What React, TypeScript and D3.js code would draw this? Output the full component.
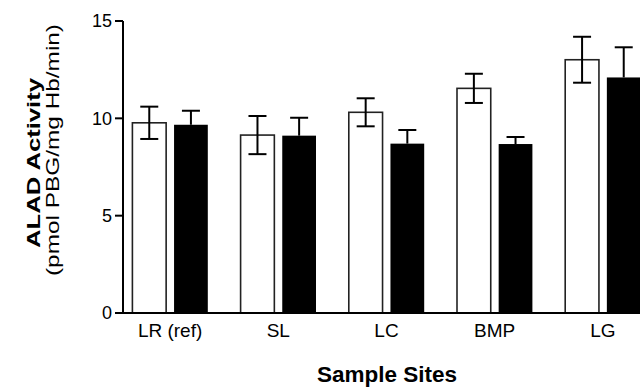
import * as d3 from 'd3';

const sites = ['LR (ref)', 'SL', 'LC', 'BMP', 'LG'];
const openMean = [9.77, 9.14, 10.31, 11.54, 13.01];
const openErr = [0.83, 0.98, 0.72, 0.75, 1.18];
const filledMean = [9.67, 9.11, 8.7, 8.68, 12.1];
const filledErr = [0.72, 0.92, 0.7, 0.36, 1.55];
const yTicks = [0, 5, 10, 15];

const W = 640;
const H = 387;
const FONT = '"Liberation Sans", Arial, sans-serif';
const AXIS_X = 123;
const CAP = 9;

export default function App() {
  const x = d3.scaleBand<string>().domain(sites).range([116, 657]).padding(0);
  const sub = d3
    .scaleBand<string>()
    .domain(['open', 'filled'])
    .range([-37.7, 37.7])
    .paddingInner(0.19)
    .paddingOuter(0);
  const y = d3.scaleLinear().domain([0, 15]).range([313, 21]);
  const bw = sub.bandwidth();

  const center = (s: string) => (x(s) ?? 0) + x.bandwidth() / 2;

  return (
    <svg
      width={W}
      height={H}
      style={{ position: 'absolute', left: 0, top: 0, background: '#fff' }}
      fontFamily={FONT}
    >
      {/* bars */}
      {sites.map((s, i) => {
        const cx = center(s);
        const ox = cx + (sub('open') ?? 0);
        const fx = cx + (sub('filled') ?? 0);
        const oTop = y(openMean[i]);
        const fTop = y(filledMean[i]);
        const omid = ox + bw / 2;
        const fmid = fx + bw / 2;
        const oHi = y(openMean[i] + openErr[i]);
        const oLo = y(openMean[i] - openErr[i]);
        const fHi = y(filledMean[i] + filledErr[i]);
        return (
          <g key={s}>
            <rect
              x={ox}
              y={oTop}
              width={bw}
              height={y(0) - oTop}
              fill="#fff"
              stroke="#222"
              strokeWidth={1.6}
            />
            <rect x={fx} y={fTop} width={bw} height={y(0) - fTop} fill="#000" />
            <g stroke="#000" strokeWidth={2}>
              <line x1={omid} x2={omid} y1={oHi} y2={oLo} />
              <line x1={omid - CAP} x2={omid + CAP} y1={oHi} y2={oHi} />
              <line x1={omid - CAP} x2={omid + CAP} y1={oLo} y2={oLo} />
              <line x1={fmid} x2={fmid} y1={fHi} y2={fTop} />
              <line x1={fmid - CAP} x2={fmid + CAP} y1={fHi} y2={fHi} />
            </g>
          </g>
        );
      })}

      {/* axes */}
      <g stroke="#000" strokeWidth={2}>
        <line x1={AXIS_X} x2={AXIS_X} y1={y(15)} y2={y(0)} />
        <line x1={115} x2={W} y1={y(0)} y2={y(0)} />
        {yTicks.map((t) => (
          <line key={t} x1={115} x2={AXIS_X} y1={y(t)} y2={y(t)} />
        ))}
      </g>
      {yTicks.map((t) => (
        <text
          key={t}
          x={112}
          y={y(t)}
          dy="0.35em"
          textAnchor="end"
          fontSize={18}
          fill="#000"
        >
          {t}
        </text>
      ))}
      {sites.map((s) => (
        <text key={s} x={center(s)} y={337} textAnchor="middle" fontSize={19} fill="#000">
          {s}
        </text>
      ))}

      {/* axis titles */}
      <text x={387} y={382} textAnchor="middle" fontSize={22.5} fontWeight="bold" fill="#000">
        Sample Sites
      </text>
      <text
        transform="translate(40,163) rotate(-90)"
        textAnchor="middle"
        fontSize={19}
        fontWeight="bold"
        fill="#000"
        textLength={170}
        lengthAdjust="spacingAndGlyphs"
      >
        ALAD Activity
      </text>
      <text
        transform="translate(59,150) rotate(-90)"
        textAnchor="middle"
        fontSize={18}
        fill="#000"
        textLength={252}
        lengthAdjust="spacingAndGlyphs"
      >
        (pmol PBG/mg Hb/min)
      </text>
    </svg>
  );
}
